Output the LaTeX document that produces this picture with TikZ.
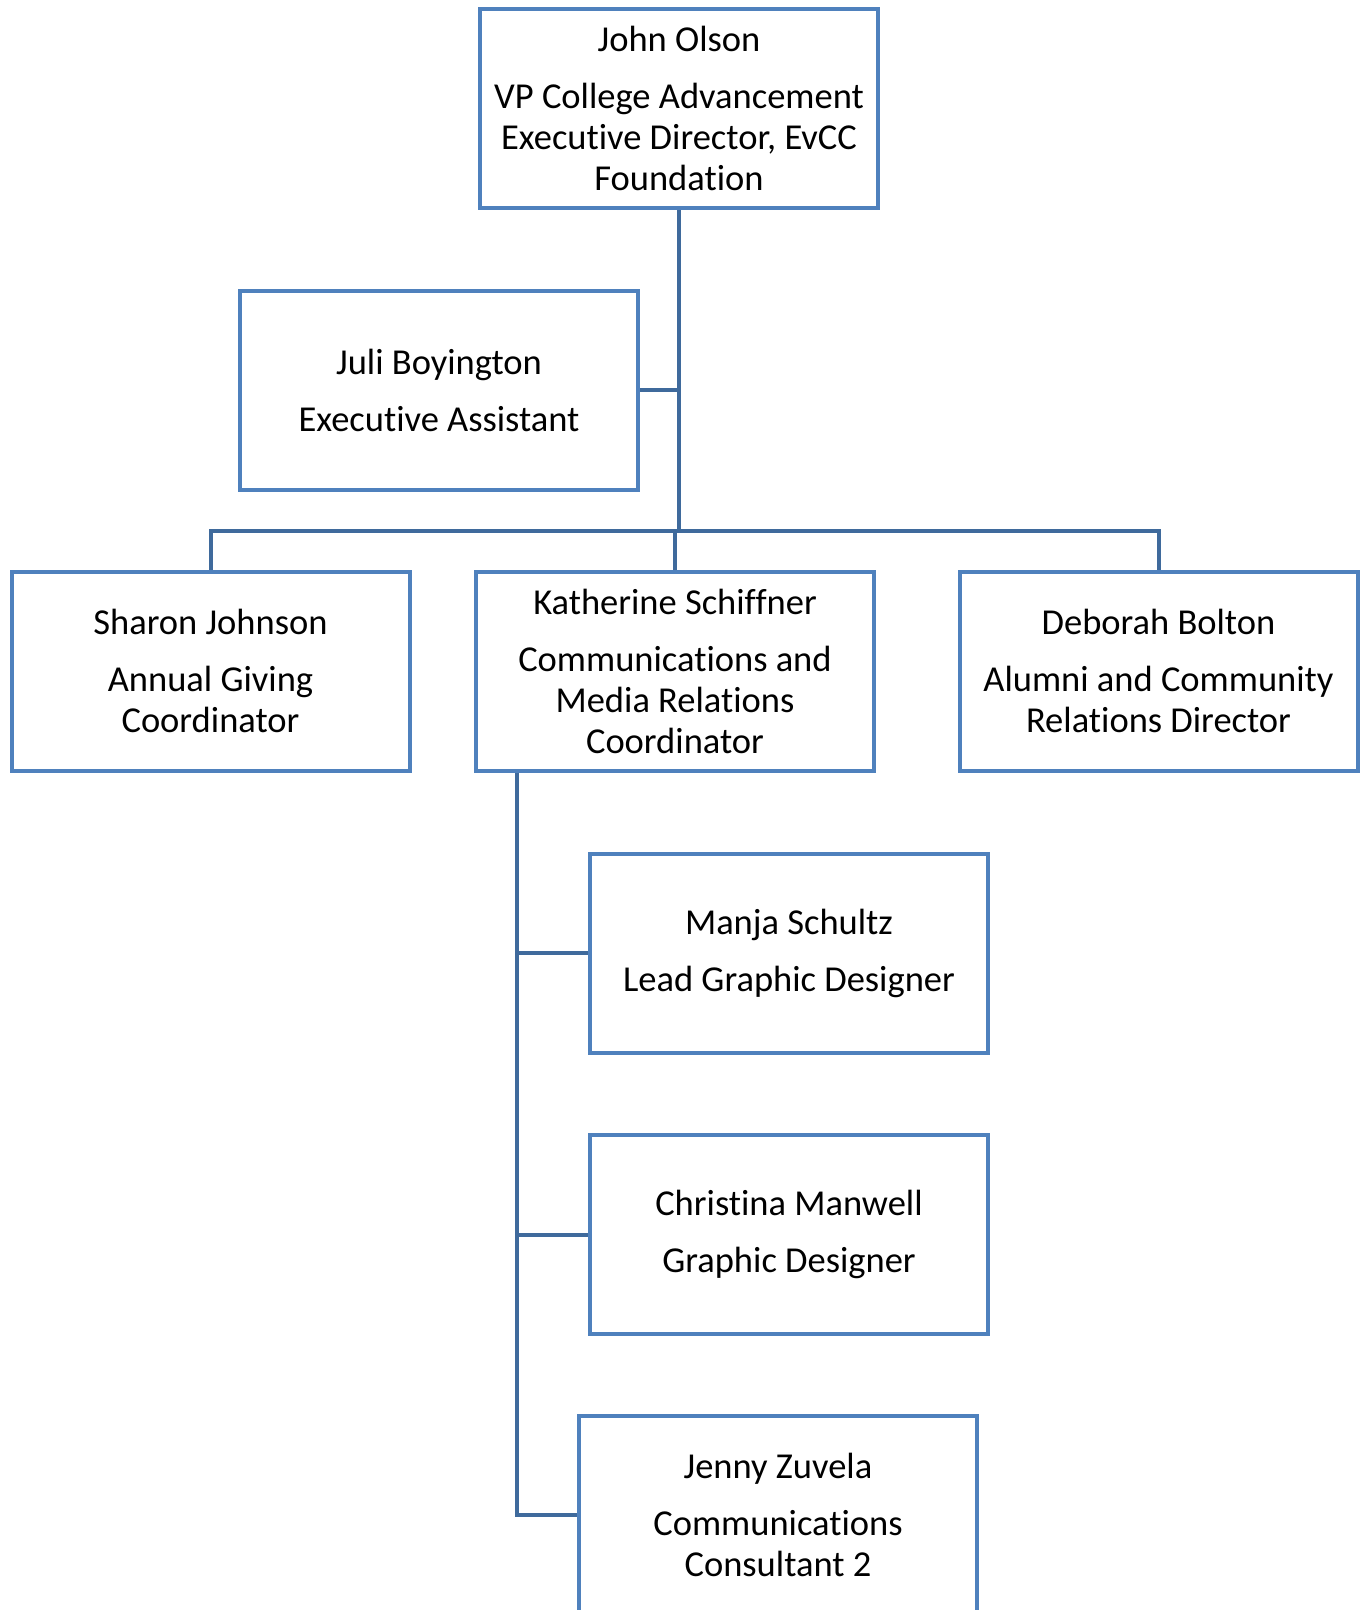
\documentclass[tikz,border=0pt]{standalone}
\usepackage{fontspec}
\setmainfont{Carlito}[Ligatures=NoCommon]
\usepackage{xcolor}
\definecolor{boxblue}{HTML}{4F81BD}
\definecolor{lineblue}{HTML}{3F6A9C}

\begin{document}
\begin{tikzpicture}[x=1pt,y=-1pt,
    box/.style={draw=boxblue,line width=4pt,fill=white,minimum width=398pt,
      minimum height=199pt,align=center,inner sep=0pt,
      font=\fontsize{36.5}{41}\selectfont},
    link/.style={draw=lineblue,line width=4pt}]
  \useasboundingbox (0,0) rectangle (1365,1610);

  % connectors first, boxes on top
  \coordinate (bus) at (679,531);
  \coordinate (kdrop) at (517,1515);

  % head
  \node[box] (olson) at (679,108.5) {John Olson\\[16pt]VP College Advancement\\Executive Director, EvCC\\Foundation};

  % assistant
  \node[box] (boyington) at (439,390) {Juli Boyington\\[16pt]Executive Assistant};

  % direct reports
  \node[box] (johnson) at (210.5,671) {Sharon Johnson\\[16pt]Annual Giving\\Coordinator};
  \node[box] (schiffner) at (675,671) {Katherine Schiffner\\[16pt]Communications and\\Media Relations\\Coordinator};
  \node[box] (bolton) at (1158.5,671) {Deborah Bolton\\[16pt]Alumni and Community\\Relations Director};

  % under Katherine
  \node[box] (schultz) at (789,953) {Manja Schultz\\[16pt]Lead Graphic Designer};
  \node[box] (manwell) at (789,1234.5) {Christina Manwell\\[16pt]Graphic Designer};
  \node[box] (zuvela) at (778,1515) {Jenny Zuvela\\[16pt]Communications\\Consultant 2};

  % lines
  \path[link] (olson.south) -- (bus);
  \path[link] (boyington.east) -- (boyington.east -| olson.south);
  \path[link] (johnson.north) |- (bus) -| (bolton.north);
  \path[link] (schiffner.north) -- (schiffner.north |- bus);
  \path[link] (schiffner.south -| kdrop) -- (kdrop) -- (zuvela.west);
  \path[link] (schultz.west -| kdrop) -- (schultz.west);
  \path[link] (manwell.west -| kdrop) -- (manwell.west);
\end{tikzpicture}
\end{document}
